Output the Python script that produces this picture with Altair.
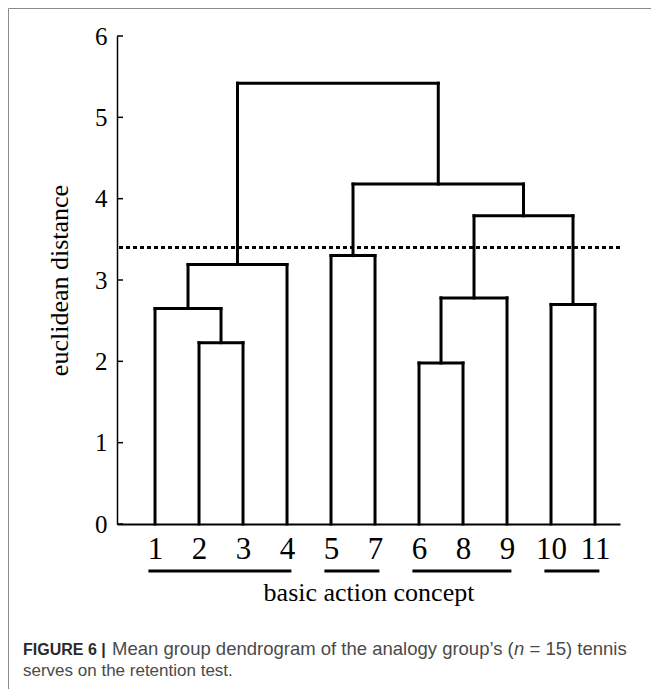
import altair as alt
import pandas as pd

# ---- data ----
leaves = ["1", "2", "3", "4", "5", "7", "6", "8", "9", "10", "11"]
# merges in order m1..m10: (left child, right child, height)
merge_a = ["2", "1", "m2", "6", "m4", "10", "m5", "5", "m8", "m3"]
merge_b = ["3", "m1", "4", "8", "9", "11", "m6", "7", "m7", "m9"]
merge_h = [2.23, 2.65, 3.19, 1.98, 2.78, 2.70, 3.79, 3.30, 4.18, 5.42]
cut_height = [3.40]
group_first = ["1", "5", "6", "10"]
group_last = ["4", "7", "9", "11"]
y_ticks = [0, 1, 2, 3, 4, 5, 6]

# ---- build dendrogram segments ----
pos = {l: float(i) for i, l in enumerate(leaves)}
hgt = {l: 0.0 for l in leaves}
segs = []
for k, (a, b, h) in enumerate(zip(merge_a, merge_b, merge_h)):
    name = f"m{k+1}"
    segs.append(dict(x=pos[a], x2=pos[a], y=hgt[a], y2=h))
    segs.append(dict(x=pos[b], x2=pos[b], y=hgt[b], y2=h))
    segs.append(dict(x=pos[a], x2=pos[b], y=h, y2=h))
    pos[name] = (pos[a] + pos[b]) / 2
    hgt[name] = h
seg_df = pd.DataFrame(segs)

groups_df = pd.DataFrame({
    "grp": [f + "-" + l for f, l in zip(group_first, group_last)],
    "gx": [pos[f] - 0.15 for f in group_first],
    "gx2": [pos[l] + 0.1 for l in group_last],
})
cut_df = pd.DataFrame({"y": cut_height})
tick_df = pd.DataFrame({"y": y_ticks})
one = pd.DataFrame({"a": [0]})

serif = "Liberation Serif"
label_expr = "[" + ",".join(f"'{l}'" for l in leaves) + "][datum.value]"

xs = alt.Scale(domain=[-0.864, 10.568], nice=False, zero=False)
ys = alt.Scale(domain=[0, 6], nice=False, zero=True)

x_axis = alt.Axis(
    values=list(range(len(leaves))), labelExpr=label_expr, grid=False, ticks=False,
    domainColor="black", domainWidth=2, labelFont=serif, labelFontSize=31,
    labelColor="black", labelBaseline="alphabetic", labelPadding=34, labelFlush=False,
    labelOverlap=False,
    title="basic action concept", titleFont=serif, titleFontSize=26,
    titleFontWeight="normal", titleColor="black", titleBaseline="alphabetic", titleY=76,
)
y_axis = alt.Axis(
    values=y_ticks, format="d", grid=False, ticks=False, domainColor="black",
    domainWidth=1.5, labelFont=serif, labelFontSize=25, labelColor="black",
    labelPadding=10,
    title="euclidean distance", titleFont=serif, titleFontSize=26,
    titleFontWeight="normal", titleColor="black", titlePadding=22,
)

dendro = alt.Chart(seg_df).mark_rule(
    color="black", strokeWidth=3, strokeCap="square"
).encode(
    x=alt.X("x:Q", scale=xs, axis=x_axis),
    x2="x2:Q",
    y=alt.Y("y:Q", scale=ys, axis=y_axis),
    y2="y2:Q",
)

cut = alt.Chart(cut_df).mark_rule(
    color="black", strokeWidth=3, strokeDash=[4, 3]
).encode(y=alt.Y("y:Q", scale=ys))

ticks = alt.Chart(tick_df).mark_rule(color="black", strokeWidth=1.5).encode(
    y=alt.Y("y:Q", scale=ys), x=alt.value(0), x2=alt.value(6)
)

underline = alt.Chart(groups_df).mark_rect(color="black").encode(
    x=alt.X("gx:Q", scale=xs), x2="gx2:Q",
    y=alt.value(533.5), y2=alt.value(536.5),
)

cap_font = "Liberation Sans"
cap1 = alt.Chart(one).mark_text(
    text="FIGURE 6 |", font=cap_font,
    fontWeight="bold", fontSize=16, color="#2a2a2a", align="left", baseline="alphabetic"
).encode(x=alt.value(-94), y=alt.value(619))
cap2 = alt.Chart(one).mark_text(
    text="Mean group dendrogram of the analogy group\u2019s (", font=cap_font,
    fontSize=18.5, color="#4a4a4a", align="left", baseline="alphabetic"
).encode(x=alt.value(-5), y=alt.value(619))
cap3 = alt.Chart(one).mark_text(
    text="n", font=cap_font, fontStyle="italic",
    fontSize=18.5, color="#4a4a4a", align="left", baseline="alphabetic"
).encode(x=alt.value(397.1), y=alt.value(619))
cap4 = alt.Chart(one).mark_text(
    text="= 15) tennis", font=cap_font,
    fontSize=18.5, color="#4a4a4a", align="left", baseline="alphabetic"
).encode(x=alt.value(412.5), y=alt.value(619))
cap5 = alt.Chart(one).mark_text(
    text="serves on the retention test.", font=cap_font,
    fontSize=17, color="#4a4a4a", align="left", baseline="alphabetic"
).encode(x=alt.value(-94), y=alt.value(640))

border_left = alt.Chart(one).mark_rule(color="#8a8a8a", strokeWidth=1).encode(
    x=alt.value(-108.5), y=alt.value(-27.5), y2=alt.value(660)
)
border_top = alt.Chart(one).mark_rule(color="#8a8a8a", strokeWidth=1).encode(
    x=alt.value(-108.5), x2=alt.value(540), y=alt.value(-27.5)
)

chart = alt.layer(
    border_left, border_top, dendro, underline, cut, ticks,
    cap1, cap2, cap3, cap4, cap5
).properties(
    width=503, height=488,
    padding={"left": 109, "top": 28, "right": 31, "bottom": 165},
    autosize=alt.AutoSizeParams(type="none"),
    background="white",
).configure_view(stroke=None)

chart.save("out.html", embed_options={"renderer": "svg", "actions": False})
